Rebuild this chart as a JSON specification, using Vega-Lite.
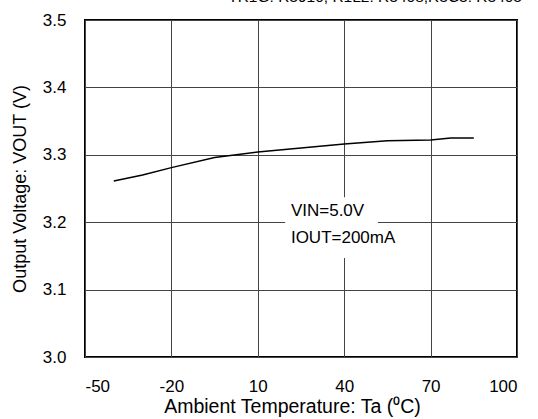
{
  "$schema": "https://vega.github.io/schema/vega-lite/v6.json",
  "width": 432,
  "height": 337,
  "autosize": {"type": "none"},
  "padding": {"left": 85, "top": 20, "right": 21, "bottom": 62},
  "background": "white",
  "title": {
    "text": "TR1G: R3910, R1L2: R3408,R3C3: R3405",
    "anchor": "end",
    "frame": "group",
    "fontSize": 15.5,
    "font": "Liberation Sans",
    "fontWeight": "normal",
    "baseline": "bottom",
    "offset": 9,
    "dx": 5,
    "dy": 18,
    "color": "black"
  },
  "config": {
    "view": {"stroke": "black", "strokeWidth": 2},
    "font": "Liberation Sans",
    "axis": {
      "domain": false,
      "ticks": false,
      "grid": true,
      "gridColor": "#444444",
      "gridWidth": 1,
      "gridOpacity": 1,
      "labelFont": "Liberation Sans",
      "labelFontSize": 17,
      "labelColor": "black",
      "titleFont": "Liberation Sans",
      "titleFontSize": 18,
      "titleFontWeight": "normal",
      "titleColor": "black"
    }
  },
  "layer": [
    {
      "data": {"values": [{"x1": 19.5, "x2": 51.7, "y1": 3.147, "y2": 3.237}]},
      "mark": {"type": "rect", "fill": "white", "stroke": null},
      "encoding": {
        "x": {"field": "x1", "type": "quantitative", "scale": {"domain": [-50, 100]}},
        "x2": {"field": "x2"},
        "y": {"field": "y1", "type": "quantitative", "scale": {"domain": [3.0, 3.5]}},
        "y2": {"field": "y2"}
      }
    },
    {
      "data": {
        "values": [
          {"t": -40, "v": 3.261},
          {"t": -30, "v": 3.270},
          {"t": -20, "v": 3.281},
          {"t": -5, "v": 3.296},
          {"t": 10, "v": 3.304},
          {"t": 25, "v": 3.310},
          {"t": 40, "v": 3.316},
          {"t": 55, "v": 3.321},
          {"t": 70, "v": 3.322},
          {"t": 77, "v": 3.325},
          {"t": 85, "v": 3.325}
        ]
      },
      "mark": {"type": "line", "color": "black", "strokeWidth": 1.5},
      "encoding": {
        "x": {
          "field": "t",
          "type": "quantitative",
          "scale": {"domain": [-50, 100], "nice": false},
          "axis": {
            "values": [-50, -20, 10, 40, 70, 100],
            "labelExpr": "'' + datum.value",
            "labelPadding": 21,
            "title": "Ambient Temperature: Ta (⁰C)",
            "titleFontSize": 19.5,
            "titlePadding": 3,
            "titleX": 207,
            "titleAlign": "center"
          }
        },
        "y": {
          "field": "v",
          "type": "quantitative",
          "scale": {"domain": [3.0, 3.5], "nice": false, "zero": false},
          "axis": {
            "values": [3.0, 3.1, 3.2, 3.3, 3.4, 3.5],
            "format": ".1f",
            "labelPadding": 19,
            "title": "Output Voltage: VOUT (V)",
            "titlePadding": 13
          }
        }
      }
    },
    {
      "data": {
        "values": [
          {"x": 21.5, "y": 3.216, "label": "VIN=5.0V"},
          {"x": 21.5, "y": 3.177, "label": "IOUT=200mA"}
        ]
      },
      "mark": {"type": "text", "align": "left", "baseline": "middle", "fontSize": 17, "font": "Liberation Sans", "color": "black"},
      "encoding": {
        "x": {"field": "x", "type": "quantitative"},
        "y": {"field": "y", "type": "quantitative"},
        "text": {"field": "label"}
      }
    }
  ]
}
